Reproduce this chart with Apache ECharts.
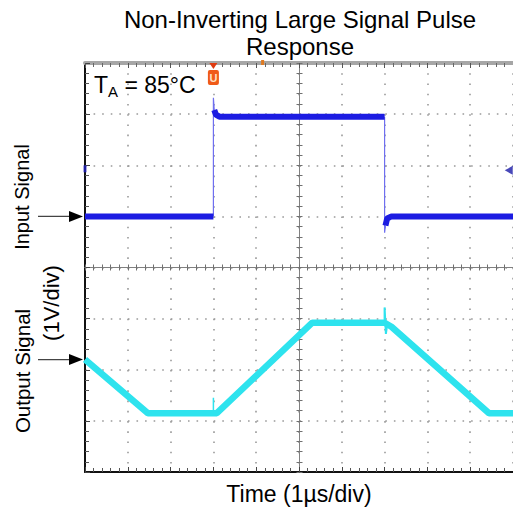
<!DOCTYPE html>
<html><head><meta charset="utf-8">
<script src="https://cdn.jsdelivr.net/npm/echarts@6/dist/echarts.min.js"></script>
<style>html,body{margin:0;padding:0;background:#fff}#c{width:513px;height:514px}</style>
</head><body><div id="c"></div>
<script>
// ---- data (time in µs, signal in divisions of 1 V, 0 = bottom of screen) ----
const inLowBeforeT = [0, 3.0];
const inLowBeforeV = [5.0, 5.0];
const inRiseT = [3.0, 3.0, 3.02];
const inRiseV = [5.0, 7.32, 7.08];
const inHighT = [3.02, 3.06, 3.14, 7.0];
const inHighV = [7.08, 6.99, 6.95, 6.95];
const inFallT = [7.0, 7.0, 7.02];
const inFallV = [6.95, 4.68, 4.82];
const inLowAfterT = [7.02, 7.06, 7.16, 10];
const inLowAfterV = [4.82, 4.96, 5.0, 5.0];

const outT = [0, 1.47, 3.08, 5.31, 7.0, 7.16, 9.44, 10];
const outV = [2.2, 1.15, 1.15, 2.92, 2.92, 2.84, 1.15, 1.15];
const outGlitch1T = [3.0, 3.0];
const outGlitch1V = [1.15, 1.45];
const outGlitch2T = [7.0, 7.0, 7.03, 7.06];
const outGlitch2V = [2.92, 3.22, 2.7, 2.88];

const trigLevelT = [9.9];
const trigLevelV = [5.9];
const ch1MarkT = [0];
const ch1MarkV = [5.93];
const triggerTimeUs = 3.0;
const orangeMarkUs = 4.15;

const titleText = 'Non-Inverting Large Signal Pulse\nResponse';
const xLabel = 'Time (1µs/div)';
const yLabelIn = 'Input Signal';
const yLabelOut = 'Output Signal';
const yLabelUnit = '(1V/div)';
const tempLabel = ['T', 'A', ' = 85°C'];

const pairs = (t, v) => t.map((x, i) => [x, v[i]]);
const FONT = '"Liberation Sans", Arial, Helvetica, sans-serif';
const BLUE = '#1c1ce2', CYAN = '#2ee3ee';

const L = 85, T = 63, W = 429, H = 409;
const chart = echarts.init(document.getElementById('c'), null, {renderer: 'svg'});

const hidden = (gi, min, max) => ({type: 'value', gridIndex: gi, min: min, max: max, show: false});
const centerAxis = (gi, pos, min, max) => ({
  type: 'value', gridIndex: gi, position: pos, min: min, max: max, interval: 0.2,
  axisLine: {show: true, onZero: false, lineStyle: {color: '#808080', width: 1}},
  axisTick: {show: true, inside: true, length: 3, lineStyle: {color: '#707070', width: 1}},
  axisLabel: {show: false}, splitLine: {show: false}
});

const lineSeries = (data, color, width, z) => ({
  type: 'line', xAxisIndex: 0, yAxisIndex: 0, data: data, showSymbol: false, symbol: 'none',
  lineStyle: {color: color, width: width}, z: z, animation: false, silent: true
});

chart.setOption({
  animation: false,
  backgroundColor: '#fff',
  grid: [
    {left: L, top: T, width: W, height: H},
    {left: L, top: T, width: W / 2, height: H},
    {left: L + W / 2, top: T, width: W / 2, height: H},
    {left: L, top: T, width: W, height: H / 2},
    {left: L, top: T + H / 2, width: W, height: H / 2}
  ],
  xAxis: [
    {type: 'value', gridIndex: 0, position: 'bottom', min: 0, max: 10, interval: 1,
     name: xLabel, nameLocation: 'middle', nameGap: 10,
     nameTextStyle: {fontFamily: FONT, fontSize: 23, color: '#000'},
     axisLine: {onZero: false, lineStyle: {color: '#111', width: 2}},
     axisTick: {inside: true, length: 5, lineStyle: {color: '#444'}},
     minorTick: {show: true, splitNumber: 5, length: 4, lineStyle: {color: '#555'}},
     axisLabel: {show: false},
     splitLine: {show: true, lineStyle: {color: '#9a9a9a', width: 1.6, type: [1.6, 8.63]}}},
    {type: 'value', gridIndex: 0, position: 'top', min: 0, max: 10, interval: 1,
     axisLine: {onZero: false, lineStyle: {color: '#a6a6a6', width: 4}},
     axisTick: {inside: true, length: 5, lineStyle: {color: '#555'}},
     minorTick: {show: true, splitNumber: 5, length: 4, lineStyle: {color: '#666'}},
     axisLabel: {show: false}, splitLine: {show: false}},
    hidden(1, 0, 5),
    hidden(2, 5, 10),
    centerAxis(3, 'bottom', 0, 10),
    centerAxis(4, 'top', 0, 10)
  ],
  yAxis: [
    {type: 'value', gridIndex: 0, position: 'left', min: 0, max: 8, interval: 1,
     axisLine: {onZero: false, lineStyle: {color: '#111', width: 2}},
     axisTick: {inside: true, length: 5, lineStyle: {color: '#444'}},
     minorTick: {show: true, splitNumber: 5, length: 4, lineStyle: {color: '#555'}},
     axisLabel: {show: false},
     splitLine: {show: true, lineStyle: {color: '#9a9a9a', width: 1.6, type: [1.6, 6.98]}}},
    centerAxis(1, 'right', 0, 8),
    centerAxis(2, 'left', 0, 8),
    hidden(3, 4, 8),
    hidden(4, 0, 4)
  ],
  series: [
    lineSeries(pairs(inLowBeforeT, inLowBeforeV), BLUE, 6, 10),
    lineSeries(pairs(inRiseT, inRiseV), '#6f6ff0', 1.2, 9),
    lineSeries(pairs(inHighT, inHighV), BLUE, 6, 10),
    lineSeries(pairs(inFallT, inFallV), '#6f6ff0', 1.2, 9),
    lineSeries(pairs(inLowAfterT, inLowAfterV), BLUE, 6, 10),
    lineSeries(pairs(outT, outV), CYAN, 6.5, 10),
    lineSeries(pairs(outGlitch1T, outGlitch1V), CYAN, 1.5, 9),
    lineSeries(pairs(outGlitch2T, outGlitch2V), CYAN, 2, 9),
    {type: 'scatter', xAxisIndex: 0, yAxisIndex: 0, data: pairs(trigLevelT, trigLevelV),
     symbol: 'triangle', symbolRotate: 90, symbolSize: [9, 8], itemStyle: {color: '#1a1aa8'}, silent: true, z: 11},
    {type: 'scatter', xAxisIndex: 0, yAxisIndex: 0, data: pairs(ch1MarkT, ch1MarkV), clip: false,
     symbol: 'rect', symbolSize: [3, 7], itemStyle: {color: '#2020c0'}, silent: true, z: 11}
  ]
});

// annotations anchored to the data via the chart's own scales
const pIn = chart.convertToPixel({gridIndex: 0}, [0, inLowBeforeV[0]]);
const pOut = chart.convertToPixel({gridIndex: 0}, [0, outV[0]]);
const pTrig = chart.convertToPixel({gridIndex: 0}, [triggerTimeUs, 8]);
const pOrange = chart.convertToPixel({gridIndex: 0}, [orangeMarkUs, 8]);
const arrow = (y) => ([
  {type: 'line', shape: {x1: 38, y1: y, x2: 72, y2: y}, style: {stroke: '#444', lineWidth: 1.2}, silent: true},
  {type: 'polygon', shape: {points: [[69, y - 5.5], [83, y], [69, y + 5.5]]}, style: {fill: '#000'}, silent: true}
]);
chart.setOption({
  graphic: [
    {type: 'text', x: 300, y: 6, silent: true,
     style: {text: titleText, font: '24px ' + FONT, fill: '#000', align: 'center', verticalAlign: 'top', lineHeight: 27}},
    {type: 'text', x: L + 9, y: T + 22, silent: true, z: 20,
     style: {text: '{t|' + tempLabel[0] + '}{s|' + tempLabel[1] + '}{t|' + tempLabel[2] + '}',
       verticalAlign: 'middle', align: 'left',
       rich: {t: {fontFamily: FONT, fontSize: 23, lineHeight: 28, fill: '#000', color: '#000'},
              s: {fontFamily: FONT, fontSize: 15, lineHeight: 15, verticalAlign: 'bottom', fill: '#000', color: '#000'}}}},
    {type: 'text', x: 22, y: 197, rotation: Math.PI / 2, silent: true,
     style: {text: yLabelIn, font: '20px ' + FONT, fill: '#000', align: 'center', verticalAlign: 'middle'}},
    {type: 'text', x: 22, y: 371, rotation: Math.PI / 2, silent: true,
     style: {text: yLabelOut, font: '20.5px ' + FONT, fill: '#000', align: 'center', verticalAlign: 'middle'}},
    {type: 'text', x: 51, y: 303, rotation: Math.PI / 2, silent: true,
     style: {text: yLabelUnit, font: '22px ' + FONT, fill: '#000', align: 'center', verticalAlign: 'middle'}},
    ...arrow(pIn[1]),
    ...arrow(pOut[1]),
    {type: 'polygon', z: 30, silent: true, shape: {points: [[pTrig[0] - 4, pTrig[1]], [pTrig[0] + 4, pTrig[1]], [pTrig[0], pTrig[1] + 6]]}, style: {fill: '#e03a10'}},
    {type: 'rect', z: 30, silent: true, shape: {x: pTrig[0] - 5.5, y: pTrig[1] + 7, width: 11, height: 15, r: 2}, style: {fill: '#f05a18'}},
    {type: 'text', z: 31, silent: true, x: pTrig[0], y: pTrig[1] + 14.5,
     style: {text: 'U', font: 'bold 11px ' + FONT, fill: '#ffe0c0', align: 'center', verticalAlign: 'middle'}},
    {type: 'rect', z: 30, silent: true, shape: {x: pOrange[0] - 1.5, y: pOrange[1] - 3, width: 3, height: 5}, style: {fill: '#e07a20'}}
  ]
});
</script>
</body></html>
